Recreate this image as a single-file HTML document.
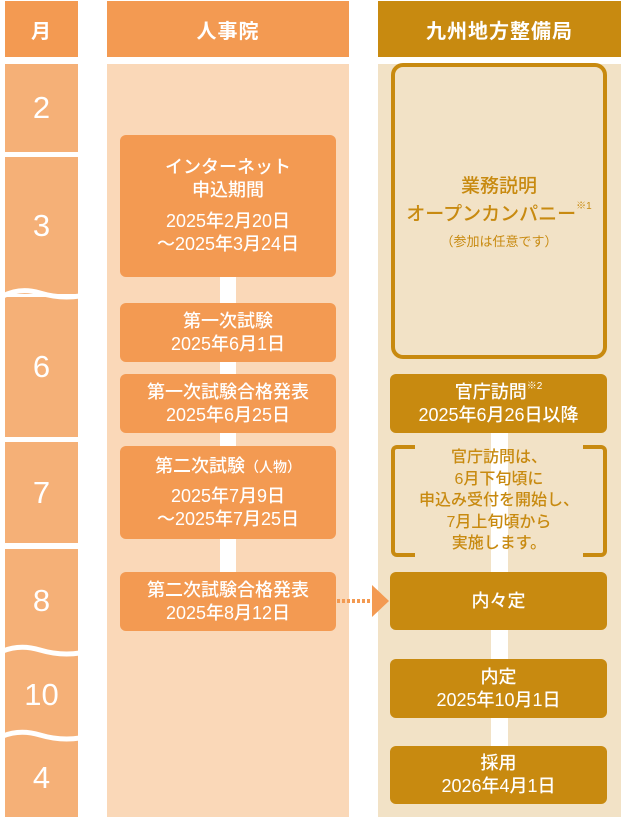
<!DOCTYPE html>
<html><head><meta charset="utf-8"><style>
*{margin:0;padding:0;box-sizing:border-box}
body{width:623px;height:822px;background:#fff;position:relative;overflow:hidden;font-family:"Liberation Sans","Noto Sans CJK JP",sans-serif;color:#fff}
.a{position:absolute}
.h{display:flex;align-items:center;justify-content:center;font-size:20px;font-weight:bold;letter-spacing:1px}
.m{background:#f5b077;left:5px;width:73px;display:flex;align-items:center;justify-content:center;font-size:31px}
.b{position:absolute;display:flex;flex-direction:column;align-items:center;justify-content:center;text-align:center;border-radius:6px;font-size:18px;line-height:23px;font-weight:500}
.o{background:#f39a52;left:120px;width:216px}
.g{background:#c88a10;left:390px;width:217px}
sup{font-size:10px;vertical-align:top;line-height:12px}
</style></head><body>
<div class="a h" style="left:5px;top:1px;width:73px;height:56px;background:#f39a52">月</div>
<div class="a h" style="left:107px;top:1px;width:242px;height:56px;background:#f39a52">人事院</div>
<div class="a h" style="left:378px;top:1px;width:243px;height:56px;background:#c88a10">九州地方整備局</div>

<div class="a m" style="top:64px;height:88px">2</div>
<div class="a m" style="top:157px;height:137px">3</div>
<div class="a m" style="top:297px;height:140px">6</div>
<div class="a m" style="top:442px;height:101px">7</div>
<div class="a m" style="top:549px;height:103px">8</div>
<div class="a m" style="top:652px;height:86px">10</div>
<div class="a m" style="top:738px;height:79px">4</div>
<svg class="a" style="left:0;top:0" width="623" height="822">
<path d="M3 296 Q20 287 40 293 T80 296" stroke="#fff" stroke-width="5" fill="none"/>
<path d="M3 651 Q20 644 40 650 T80 653" stroke="#fff" stroke-width="5" fill="none"/>
<path d="M3 736 Q20 729 40 735 T80 738" stroke="#fff" stroke-width="5" fill="none"/>
</svg>

<div class="a" style="left:107px;top:64px;width:242px;height:753px;background:#fad8b8"></div>
<div class="a" style="left:378px;top:64px;width:243px;height:753px;background:#f2e2c6"></div>
<div class="a" style="left:220px;top:277px;width:16px;height:295px;background:#fff"></div>
<div class="a" style="left:491px;top:433px;width:17px;height:371px;background:#fff"></div>

<div class="b o" style="top:135px;height:142px"><div>インターネット<br>申込期間</div><div style="margin-top:8px">2025年2月20日<br>～2025年3月24日</div></div>
<div class="b o" style="top:303px;height:59px"><div>第一次試験<br>2025年6月1日</div></div>
<div class="b o" style="top:374px;height:59px"><div>第一次試験合格発表<br>2025年6月25日</div></div>
<div class="b o" style="top:446px;height:93px"><div>第二次試験<span style="font-size:14px">（人物）</span></div><div style="margin-top:6px">2025年7月9日<br>～2025年7月25日</div></div>
<div class="b o" style="top:572px;height:59px"><div>第二次試験合格発表<br>2025年8月12日</div></div>

<div class="a" style="left:391px;top:63px;width:216px;height:296px;border:4px solid #c88a10;border-radius:12px;color:#c88a10;display:flex;flex-direction:column;align-items:center;justify-content:center;text-align:center">
<div style="font-size:19px;line-height:28px;font-weight:500">業務説明<br>オープンカンパニー<sup>※1</sup></div>
<div style="font-size:13px;margin-top:2px">（参加は任意です）</div></div>

<div class="b g" style="top:374px;height:59px"><div>官庁訪問<sup>※2</sup><br>2025年6月26日以降</div></div>
<div class="a" style="left:391px;top:445px;width:216px;height:112px;color:#c88a10;font-size:16px;line-height:21.5px;text-align:center;display:flex;align-items:center;justify-content:center;font-weight:500">
<div style="position:absolute;left:0;top:0;width:24px;height:112px;border:4px solid #c88a10;border-right:none;border-radius:6px 0 0 6px"></div>
<div style="position:absolute;right:0;top:0;width:24px;height:112px;border:4px solid #c88a10;border-left:none;border-radius:0 6px 6px 0"></div>
<div style="position:relative">官庁訪問は、<br>6月下旬頃に<br>申込み受付を開始し、<br>7月上旬頃から<br>実施します。</div></div>
<div class="b g" style="top:572px;height:58px"><div>内々定</div></div>
<div class="b g" style="top:659px;height:59px"><div>内定<br>2025年10月1日</div></div>
<div class="b g" style="top:746px;height:58px"><div>採用<br>2026年4月1日</div></div>

<svg class="a" style="left:0;top:0" width="623" height="822">
<line x1="337" y1="601" x2="372" y2="601" stroke="#f39a52" stroke-width="4" stroke-dasharray="3,2"/>
<polygon points="372,585 389,601 372,617" fill="#f39a52"/>
</svg>
</body></html>
